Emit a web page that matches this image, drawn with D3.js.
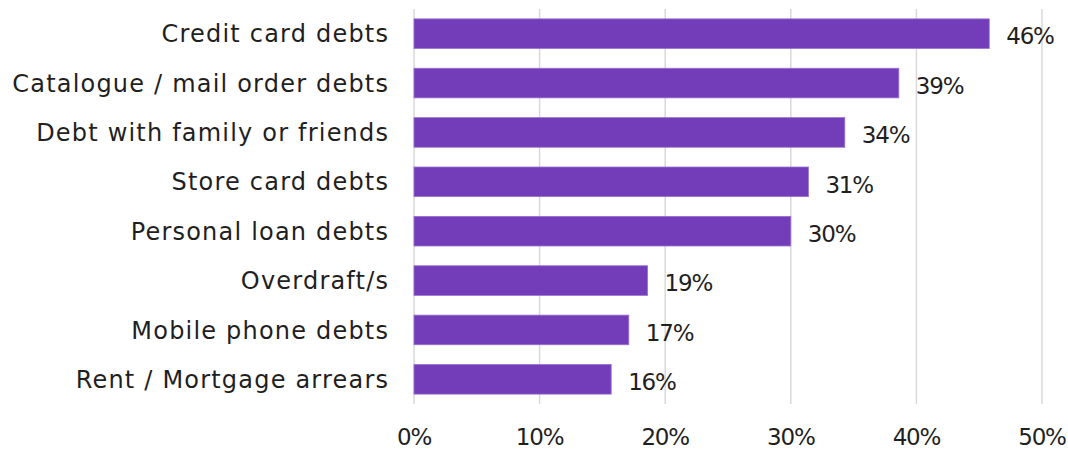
<!DOCTYPE html>
<html>
<head>
<meta charset="utf-8">
<script src="https://cdn.jsdelivr.net/npm/d3@7"></script>
<style>
  html, body { margin: 0; padding: 0; background: #fff; }
  svg { display: block; }
</style>
</head>
<body>
<div id="chart"></div>
<script>
// categories top to bottom
const categories = [
  "Credit card debts",
  "Catalogue / mail order debts",
  "Debt with family or friends",
  "Store card debts",
  "Personal loan debts",
  "Overdraft/s",
  "Mobile phone debts",
  "Rent / Mortgage arrears"
];
// share of respondents (%)
const values = [45.8, 38.6, 34.3, 31.4, 30.0, 18.6, 17.1, 15.7];
const valueLabels = ["46%", "39%", "34%", "31%", "30%", "19%", "17%", "16%"];
const xTicks = [0, 10, 20, 30, 40, 50];

const width = 1068, height = 451;
const plot = { left: 414, right: 1042, top: 9, bottom: 404 };
const fontFamily = "'DejaVu Sans', sans-serif";
const textColor = "#1f1f1f";

const svg = d3.select("#chart")
  .append("svg")
  .attr("width", width)
  .attr("height", height);

const x = d3.scaleLinear().domain([0, 50]).range([plot.left, plot.right]);
const y = d3.scaleBand().domain(categories).range([plot.top, plot.bottom]).paddingInner(0.4).paddingOuter(0.2);

// gridlines
svg.append("g")
  .selectAll("line")
  .data(xTicks)
  .enter()
  .append("line")
  .attr("x1", d => x(d))
  .attr("x2", d => x(d))
  .attr("y1", plot.top)
  .attr("y2", plot.bottom)
  .attr("stroke", "#d9d9d9")
  .attr("stroke-width", 1.5);

// x tick labels
svg.append("g")
  .selectAll("text")
  .data(xTicks)
  .enter()
  .append("text")
  .attr("x", d => x(d))
  .attr("y", plot.bottom + 41)
  .attr("text-anchor", "middle")
  .style("font-family", fontFamily)
  .style("font-size", "23px")
  .style("letter-spacing", "-1.2px")
  .attr("fill", textColor)
  .text(d => d + "%");

// category labels
svg.append("g")
  .selectAll("text")
  .data(categories)
  .enter()
  .append("text")
  .attr("x", plot.left - 24.8)
  .attr("y", d => y(d) + y.bandwidth() / 2)
  .attr("dy", "0.36em")
  .attr("text-anchor", "end")
  .style("font-family", fontFamily)
  .style("font-size", "24px")
  .style("letter-spacing", "1.2px")
  .attr("fill", textColor)
  .text(d => d);

// bars
svg.append("g")
  .selectAll("rect")
  .data(values)
  .enter()
  .append("rect")
  .attr("x", x(0))
  .attr("y", (d, i) => y(categories[i]))
  .attr("width", d => x(d) - x(0))
  .attr("height", y.bandwidth())
  .attr("fill", "#733cb8")
  .attr("stroke", "#9a72d2")
  .attr("stroke-width", 0.8);

// value labels
svg.append("g")
  .selectAll("text")
  .data(values)
  .enter()
  .append("text")
  .attr("x", d => x(d) + 17)
  .attr("y", (d, i) => y(categories[i]) + y.bandwidth() / 2)
  .attr("dy", "0.47em")
  .style("font-family", fontFamily)
  .style("font-size", "23px")
  .style("letter-spacing", "-1.2px")
  .attr("fill", textColor)
  .text((d, i) => valueLabels[i]);
</script>
</body>
</html>
